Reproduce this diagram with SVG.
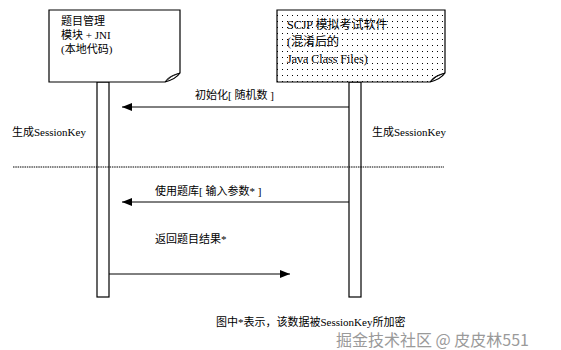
<svg xmlns="http://www.w3.org/2000/svg" width="561" height="350" viewBox="0 0 561 350">
<style>
.t{font-family:"Liberation Serif","Noto Sans CJK SC",serif;font-size:11px;fill:#000}
.tb{font-family:"Liberation Serif","Noto Sans CJK SC",serif;font-size:12px;fill:#000}
.box{stroke:#000;stroke-width:1.2}
.life{fill:#fff;stroke:#000;stroke-width:1.2}
.msg{stroke:#000;stroke-width:1;fill:none}
.wm{font-family:"Noto Sans CJK SC",sans-serif;font-size:16px;fill:#9a9a9a;stroke:#fff;stroke-width:2.5;paint-order:stroke}
</style>
<defs>
<pattern id="dots" width="5" height="6" patternUnits="userSpaceOnUse">
<rect width="5" height="6" fill="#fff"/>
<rect x="2" y="3" width="1" height="1" fill="#000"/>
</pattern>
<marker id="ah" markerWidth="10" markerHeight="8" refX="10" refY="4" orient="auto" markerUnits="userSpaceOnUse">
<path d="M0,0 L10,4 L0,8 Z" fill="#000"/>
</marker>
</defs>
<rect width="561" height="350" fill="#fff"/>
<g id="lifeline-left"><rect class="life" x="97" y="82" width="12" height="215"/></g>
<g id="lifeline-right"><rect class="life" x="349" y="82" width="12" height="215"/></g>
<g id="node-left">
<path class="box" fill="#fff" d="M49,10 H180 V73 Q176,79 165,82 H49 Z"/>
<path d="M165,82 Q168,76 180,73 Q172,76 171,77 Z" fill="#888" stroke="#000" stroke-width="0.8"/>
<text class="t" x="61" y="25">题目管理</text>
<text class="t" x="61" y="39">模块 + JNI</text>
<text class="t" x="61" y="53">(本地代码)</text>
</g>
<g id="node-right">
<path class="box" fill="url(#dots)" d="M277,10 H445 V73 Q441,79 430,82 H277 Z"/>
<path d="M430,82 Q433,76 445,73 Q437,76 436,77 Z" fill="#000" stroke="#000" stroke-width="0.8"/>
<text class="tb" x="287" y="29">SCJP 模拟考试软件</text>
<text class="tb" x="287" y="46">(混淆后的</text>
<text class="tb" x="287" y="63">Java Class Files)</text>
</g>
<g id="connectors">
<line class="msg" x1="349" y1="107" x2="122" y2="107" marker-end="url(#ah)"/>
<line class="msg" x1="349" y1="202" x2="122" y2="202" marker-end="url(#ah)"/>
<line class="msg" x1="109" y1="274" x2="290" y2="274" marker-end="url(#ah)"/>
<line x1="13" y1="167" x2="444" y2="167" stroke="#000" stroke-width="1" stroke-dasharray="1.5 0.8"/>
</g>
<g id="labels">
<text class="t" x="195" y="99">初始化[ 随机数 ]</text>
<text class="t" x="12" y="136">生成SessionKey</text>
<text class="t" x="372" y="136">生成SessionKey</text>
<text class="t" x="155" y="195">使用题库[ 输入参数* ]</text>
<text class="t" x="155" y="243">返回题目结果*</text>
<text class="t" x="216" y="326">图中*表示，该数据被SessionKey所加密</text>
</g>
<text class="wm" x="336" y="346">掘金技术社区 @ 皮皮林551</text>
</svg>
